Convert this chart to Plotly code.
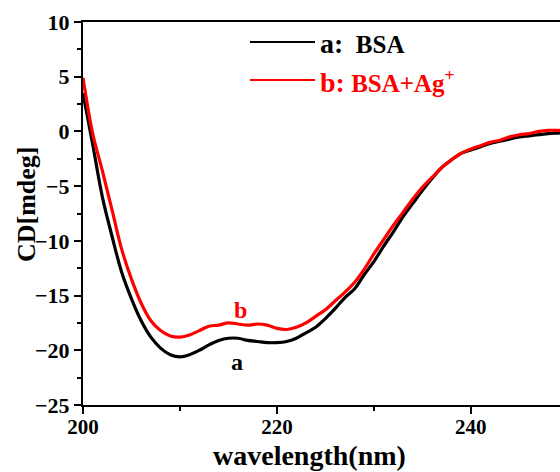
import plotly.graph_objects as go

wavelength = list(range(200, 251))
cd_bsa = [3.5, -1.2, -6.0, -9.6, -12.9, -15.3, -17.3, -18.8, -19.8, -20.4,
          -20.6, -20.4, -20.0, -19.5, -19.1, -18.9, -18.9, -19.1, -19.2, -19.3,
          -19.3, -19.2, -18.9, -18.4, -17.9, -17.1, -16.2, -15.2, -14.4, -13.1,
          -11.9, -10.5, -9.2, -7.8, -6.6, -5.4, -4.3, -3.3, -2.6, -2.0,
          -1.7, -1.4, -1.1, -0.9, -0.7, -0.5, -0.4, -0.3, -0.2, -0.15, -0.1]
cd_bsa_ag = [4.9, -0.2, -3.6, -7.2, -10.8, -13.5, -15.7, -17.3, -18.2, -18.7,
             -18.8, -18.6, -18.2, -17.8, -17.7, -17.5, -17.6, -17.7, -17.6, -17.7,
             -18.0, -18.1, -17.9, -17.5, -16.9, -16.3, -15.5, -14.7, -13.8, -12.6,
             -11.2, -9.9, -8.6, -7.4, -6.2, -5.1, -4.2, -3.3, -2.6, -2.0,
             -1.6, -1.3, -1.0, -0.8, -0.5, -0.3, -0.2, 0.0, 0.1, 0.1, 0.1]

x_ticks = [200, 220, 240]
x_minor = [210, 230, 250]
y_ticks = [-25, -20, -15, -10, -5, 0, 5, 10]

FONT = "Liberation Serif"
RED = "#ff0000"

fig = go.Figure()
fig.add_trace(go.Scatter(x=wavelength, y=cd_bsa, mode="lines", name="a: BSA",
                         line=dict(color="black", width=3.2, shape="spline"), showlegend=False))
fig.add_trace(go.Scatter(x=wavelength, y=cd_bsa_ag, mode="lines", name="b: BSA+Ag+",
                         line=dict(color=RED, width=3.2, shape="spline"), showlegend=False))

# curve labels
fig.add_annotation(x=215.9, y=-21.1, text="<b>a</b>", showarrow=False,
                   font=dict(family=FONT, size=24, color="black"))
fig.add_annotation(x=216.2, y=-16.3, text="<b>b</b>", showarrow=False,
                   font=dict(family=FONT, size=24, color=RED))

# helpers: page pixel -> paper coords
px0, pw = 83, 477
ph_top, ph = 22, 383
def px(v):
    return (v - px0) / pw
def py(v):
    return 1 - (v - ph_top) / ph

# legend (drawn manually)
fig.add_shape(type="line", xref="paper", yref="paper", x0=px(250), x1=px(315), y0=py(42), y1=py(42),
              line=dict(color="black", width=2))
fig.add_shape(type="line", xref="paper", yref="paper", x0=px(250), x1=px(315), y0=py(80), y1=py(80),
              line=dict(color=RED, width=2))
fig.add_annotation(xref="paper", yref="paper", x=px(318), y=py(44), xanchor="left", yanchor="middle",
                   text="<b><span style='font-size:28px'>a:</span>  BSA</b>", showarrow=False,
                   font=dict(family=FONT, size=25, color="black"))
fig.add_annotation(xref="paper", yref="paper", x=px(318), y=py(81), xanchor="left", yanchor="middle",
                   text="<b><span style='font-size:28px'>b:</span> BSA+Ag<sup>+</sup></b>", showarrow=False,
                   font=dict(family=FONT, size=25, color=RED))

# axis titles
fig.add_annotation(xref="paper", yref="paper", x=px(309), y=py(455), xanchor="center", yanchor="middle",
                   text="<b>wavelength(nm)</b>", showarrow=False,
                   font=dict(family=FONT, size=28, color="black"))
fig.add_annotation(xref="paper", yref="paper", x=px(27), y=py(204), xanchor="center", yanchor="middle",
                   text="<b>CD[mdeg]</b>", textangle=-90, showarrow=False,
                   font=dict(family=FONT, size=26, color="black"))

fig.update_xaxes(range=[200, 249.2], tickvals=x_ticks, ticks="outside", ticklen=7, tickwidth=2,
                 tickcolor="black", ticklabelstandoff=-5,
                 showline=True, linecolor="black", linewidth=2, mirror=True,
                 showgrid=False, zeroline=False,
                 minor=dict(tickvals=x_minor, ticks="outside", ticklen=4, tickwidth=2, tickcolor="black"),
                 tickfont=dict(family=FONT, size=21, color="black", weight="bold"))
fig.update_yaxes(range=[-25, 10], tickvals=y_ticks, ticks="outside", ticklen=7, tickwidth=2,
                 tickcolor="black",
                 showline=True, linecolor="black", linewidth=2, mirror=False,
                 showgrid=False, zeroline=False,
                 minor=dict(dtick=2.5, ticks="outside", ticklen=4, tickwidth=2, tickcolor="black"),
                 tickfont=dict(family=FONT, size=22, color="black", weight="bold"))

fig.update_layout(width=560, height=472, margin=dict(l=83, r=0, t=22, b=67, autoexpand=False),
                  plot_bgcolor="white", paper_bgcolor="white")

fig.write_html("out.html", config={"displayModeBar": False},
               post_script="document.body.style.margin='0';document.body.style.overflow='hidden';")
